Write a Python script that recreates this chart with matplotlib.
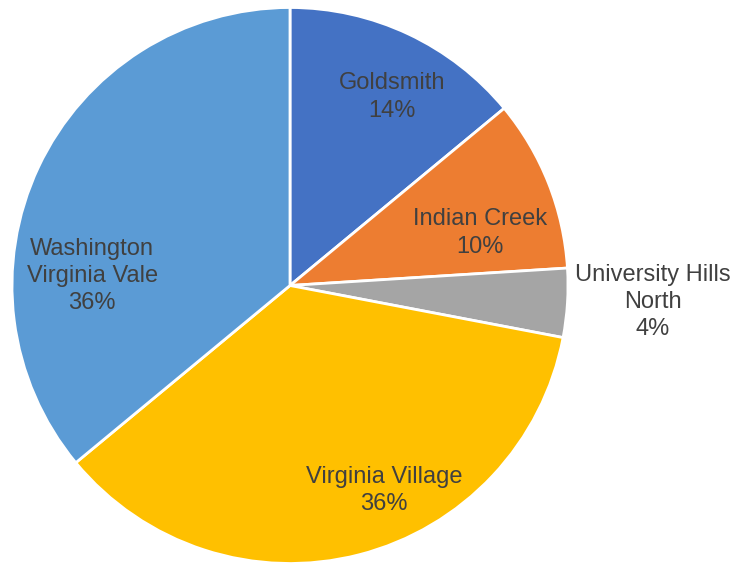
import matplotlib.pyplot as plt

plt.rcParams['font.family'] = ['Liberation Sans', 'DejaVu Sans']

# data
names = ['Goldsmith', 'Indian Creek', 'University Hills\nNorth',
         'Virginia Village', 'Washington\nVirginia Vale']
shares = [14, 10, 4, 36, 36]
colors = ['#4472C4', '#ED7D31', '#A5A5A5', '#FFC000', '#5B9BD5']

# label spots, in units of the pie radius (Excel-style manual placement)
label_xy = [(0.367, 0.678), (0.683, 0.189), (1.306, -0.059),
            (0.338, -0.739), (-0.712, 0.034)]

fig = plt.figure(figsize=(7.38, 5.64), dpi=100)
ax = fig.add_axes([12 / 738, 0.5 / 564, 556 / 738, 556 / 564])

wedges, _ = ax.pie(shares, colors=colors, startangle=90, counterclock=False,
                   radius=1, wedgeprops=dict(edgecolor='white', linewidth=2))

for name, val, (x, y) in zip(names, shares, label_xy):
    ax.text(x, y, f'{name}\n{val}%', ha='center', va='center',
            fontsize=17, color='#404040', linespacing=1.3)

ax.set_xlim(-1, 1)
ax.set_ylim(-1, 1)

fig.savefig('out.png', dpi=100)
